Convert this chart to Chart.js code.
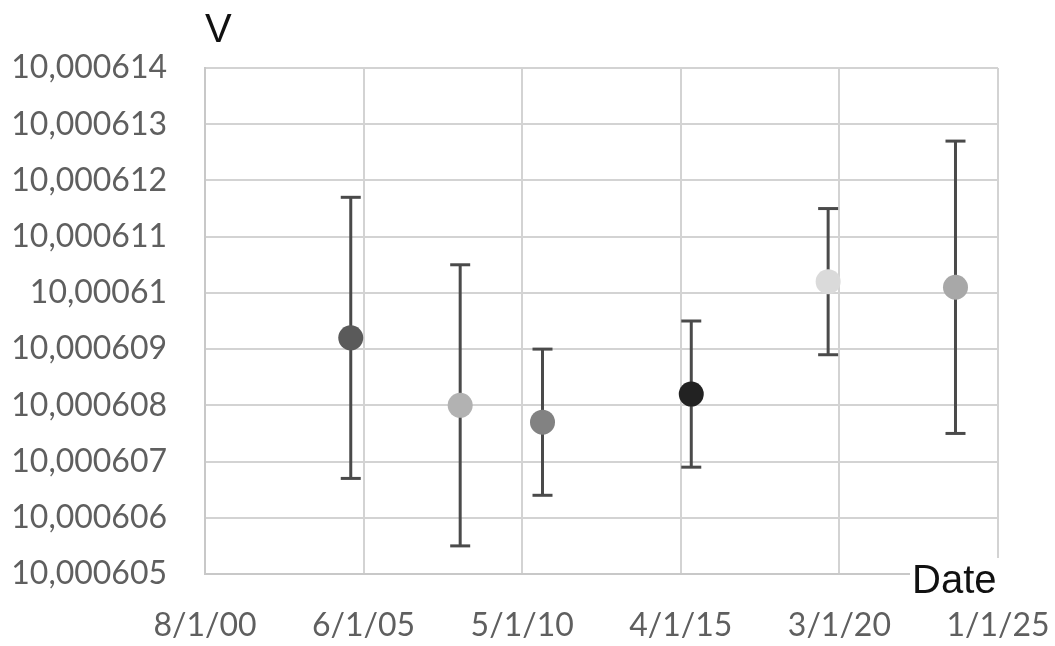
<!DOCTYPE html>
<html>
<head>
<meta charset="utf-8">
<script src="https://cdn.jsdelivr.net/npm/chart.js@4/dist/chart.umd.min.js"></script>
<style>
  html, body { margin: 0; padding: 0; background: #fff; }
  #wrap { width: 1055px; height: 646px; }
</style>
</head>
<body>
<div id="wrap"><canvas id="volt-chart"></canvas></div>
<script>
// x axis tick labels (evenly spaced date ticks)
const tickLabels = ['8/1/00', '6/1/05', '5/1/10', '4/1/15', '3/1/20', '1/1/25'];

// measurement positions, in tick intervals from 8/1/00
const xPos = [0.919, 1.609, 2.128, 3.066, 3.929, 4.732];

// measured voltage (V) and its uncertainty (V)
const voltage = [10.0006092, 10.0006080, 10.0006077, 10.0006082, 10.0006102, 10.0006101];
const uncertainty = [0.0000025, 0.0000025, 0.0000013, 0.0000013, 0.0000013, 0.0000026];

const markerColors = ['#5a5a5a', '#b2b2b2', '#828282', '#222222', '#dadada', '#a8a8a8'];

const AXIS_MIN = 605, AXIS_MAX = 614; // µV above 10 V

function toMicro(v) {
    return (v - 10) * 1e6;
}

function formatVolt(uv) {
    return (10 + uv / 1e6).toFixed(6).replace(/0+$/, '').replace('.', ',');
}

// one small dataset per error bar, caps drawn with the 'line' point style
const errorBarSets = xPos.map((x, i) => ({
    type: 'scatter',
    showLine: true,
    data: [
        { x: x, y: toMicro(voltage[i] - uncertainty[i]) },
        { x: x, y: toMicro(voltage[i] + uncertainty[i]) },
    ],
    borderColor: '#4a4a4a',
    borderWidth: 3,
    pointStyle: 'line',
    pointRadius: 10,
    pointBorderColor: '#4a4a4a',
    pointBorderWidth: 3,
    order: 2,
}));

// text labels "V" and "Date" placed like the spreadsheet chart
const axisTitles = {
    id: 'axisTitles',
    afterDraw(chart) {
        const { ctx, chartArea } = chart;
        ctx.save();
        ctx.font = '40px "Liberation Sans", Arial, sans-serif';
        ctx.fillStyle = '#111';
        ctx.textBaseline = 'alphabetic';
        ctx.textAlign = 'left';
        ctx.fillText('V', chartArea.left, 42);

        ctx.fillStyle = '#fff';
        ctx.fillRect(chartArea.right - 88, chartArea.bottom - 16, 100, 36);
        ctx.fillStyle = '#111';
        ctx.fillText('Date', chartArea.right - 86, chartArea.bottom + 19);
        ctx.restore();
    }
};

const ctx = document.getElementById('volt-chart').getContext('2d');

new Chart(ctx, {
    data: {
        datasets: [
            {
                type: 'scatter',
                data: xPos.map((x, i) => ({ x: x, y: toMicro(voltage[i]) })),
                pointRadius: 12.5,
                pointBackgroundColor: markerColors,
                pointBorderWidth: 0,
                order: 1,
            },
            ...errorBarSets,
        ],
    },
    options: {
        responsive: true,
        maintainAspectRatio: false,
        animation: false,
        layout: { padding: { left: 0, right: 57, top: 68, bottom: 0 } },
        plugins: {
            legend: { display: false },
            tooltip: { enabled: false },
        },
        scales: {
            x: {
                type: 'linear',
                min: 0,
                max: tickLabels.length - 1,
                afterFit: (scale) => {
                    scale.height = 72;
                    scale.paddingLeft = 0;
                    scale.paddingRight = 0;
                },
                ticks: {
                    stepSize: 1,
                    padding: 32,
                    color: '#5f5f5f',
                    font: { family: 'Lato', size: 32 },
                    maxRotation: 0,
                    callback: (value) => tickLabels[value] || '',
                },
                grid: { color: '#d3d3d3', lineWidth: 2, drawTicks: false },
                border: { color: '#c8c8c8', width: 2 },
            },
            y: {
                min: AXIS_MIN,
                max: AXIS_MAX,
                afterFit: (scale) => {
                    scale.width = 205;
                    scale.paddingTop = 0;
                    scale.paddingBottom = 0;
                },
                ticks: {
                    stepSize: 1,
                    padding: 38,
                    color: '#5f5f5f',
                    font: { family: 'Lato', size: 32 },
                    callback: (value) => formatVolt(value),
                },
                grid: { color: '#d3d3d3', lineWidth: 2, drawTicks: false },
                border: { color: '#c8c8c8', width: 2 },
            },
        },
    },
    plugins: [axisTitles],
});
</script>
</body>
</html>
